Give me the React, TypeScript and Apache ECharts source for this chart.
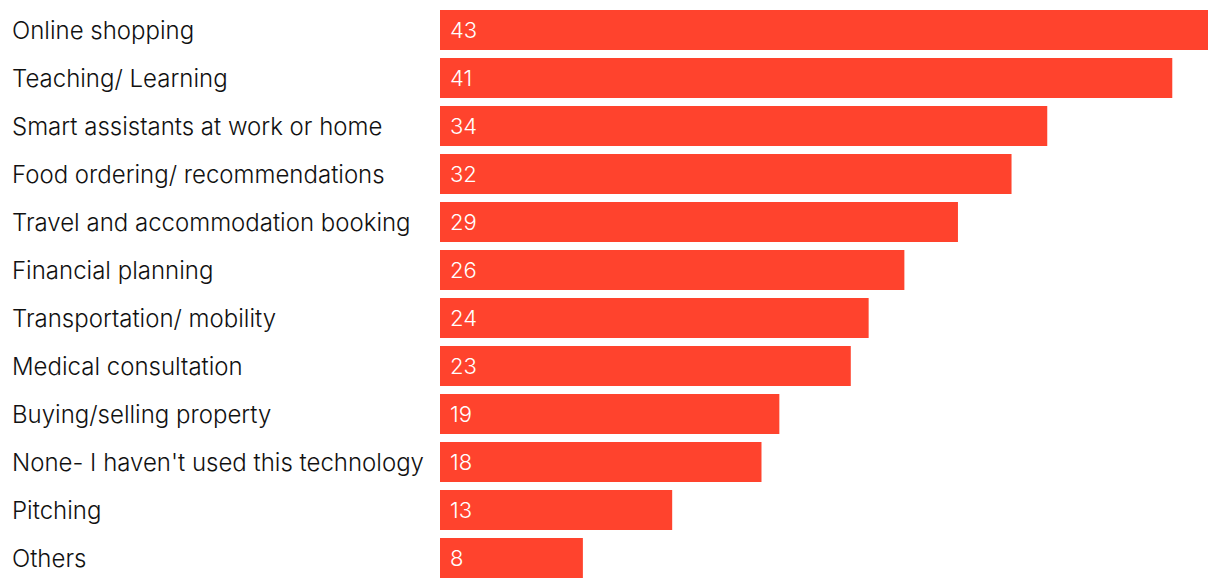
import React, { useEffect, useRef } from "react";
import * as echarts from "echarts";

const categories = [
  "Online shopping",
  "Teaching/ Learning",
  "Smart assistants at work or home",
  "Food ordering/ recommendations",
  "Travel and accommodation booking",
  "Financial planning",
  "Transportation/ mobility",
  "Medical consultation",
  "Buying/selling property",
  "None- I haven't used this technology",
  "Pitching",
  "Others",
];
const values = [43, 41, 34, 32, 29, 26, 24, 23, 19, 18, 13, 8];

export default function App() {
  const ref = useRef<HTMLDivElement>(null);
  useEffect(() => {
    document.body.style.margin = "0";
    const chart = echarts.init(ref.current!, null, { renderer: "svg" });
    chart.setOption({
      animation: false,
      grid: { left: 440, right: 12, top: 6, bottom: 6, containLabel: false },
      xAxis: {
        type: "value",
        min: 0,
        max: 43,
        show: false,
      },
      yAxis: {
        type: "category",
        data: categories,
        inverse: true,
        axisLine: { show: false },
        axisTick: { show: false },
        axisLabel: {
          align: "left",
          margin: 428,
          fontSize: 24,
          fontWeight: 300,
          color: "#111111",
          fontFamily: "Inter",
          padding: [0, 0, 3, 0],
        },
      },
      series: [
        {
          type: "bar",
          data: values,
          barCategoryGap: "16.67%",
          itemStyle: { color: "#FF432D" },
          label: {
            show: true,
            position: "insideLeft",
            distance: 10,
            color: "#ffffff",
            fontSize: 22,
            fontWeight: 300,
            fontFamily: "Inter",
          },
        },
      ],
    });
    return () => chart.dispose();
  }, []);
  return <div ref={ref} style={{ width: 1220, height: 588 }} />;
}
